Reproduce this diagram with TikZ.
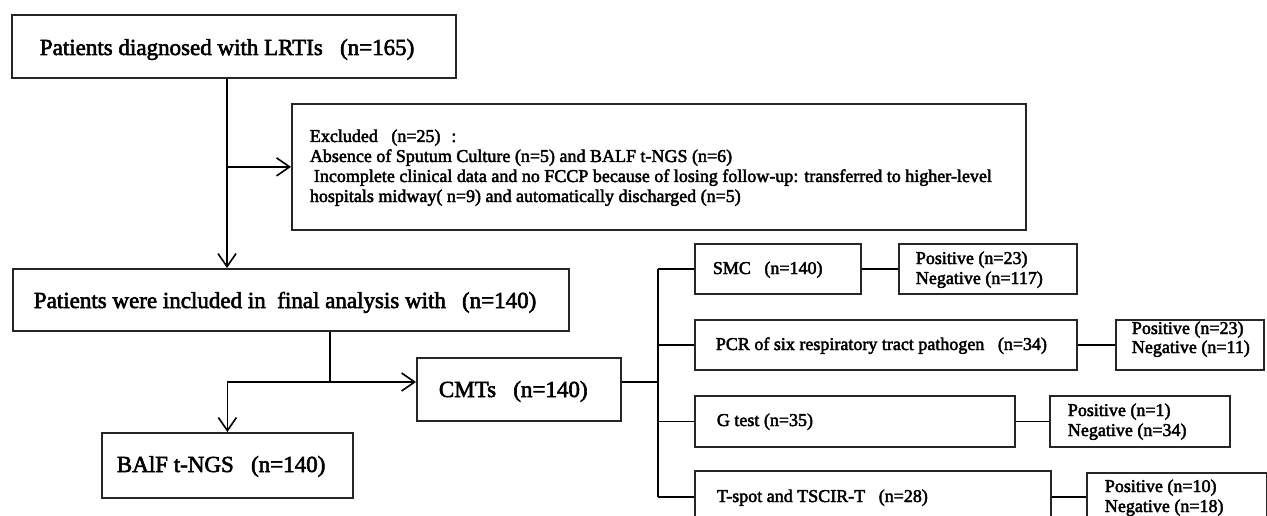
\documentclass[tikz,border=0pt]{standalone}
\usepackage{fontspec}
\setmainfont{Liberation Serif}
\newfontfamily\heavyserif{Liberation Serif}[FakeBold=2.5]
\usetikzlibrary{arrows.meta}
\begin{document}
\begin{tikzpicture}[x=1pt,y=-1pt,line width=1.8pt,
  box/.style={draw=black!85, rectangle, inner sep=0pt, anchor=north west},
  arr/.style={-{Straight Barb[length=13pt,width=18pt,line width=1.6pt]}},
  big/.style={font=\heavyserif\fontsize{23}{25}\selectfont, anchor=base west, inner sep=0pt},
  small/.style={font=\heavyserif\fontsize{18}{20}\selectfont, anchor=base west, inner sep=0pt}]
\useasboundingbox[fill=white] (0,0) rectangle (1267,516);
\clip (0,0) rectangle (1267,516);
% boxes
\node[box, minimum width=444pt, minimum height=63pt] (b1) at (11,14) {};
\node[box, minimum width=734pt, minimum height=126pt] (excl) at (291,103) {};
\node[box, minimum width=556pt, minimum height=62pt] (b2) at (12,268) {};
\node[box, minimum width=251pt, minimum height=65pt] (bal) at (101,432) {};
\node[box, minimum width=204pt, minimum height=63pt] (cmt) at (416,357) {};
\node[box, minimum width=166pt, minimum height=50pt] (smc) at (694,243) {};
\node[box, minimum width=178pt, minimum height=50pt] (smcr) at (898,243) {};
\node[box, minimum width=382pt, minimum height=50pt] (pcr) at (694,319) {};
\node[box, minimum width=148pt, minimum height=50pt] (pcrr) at (1115,319) {};
\node[box, minimum width=320pt, minimum height=51pt] (g) at (694,395) {};
\node[box, minimum width=180pt, minimum height=51pt] (gr) at (1049,395) {};
\node[box, minimum width=356pt, minimum height=52pt] (t) at (694,470) {};
\node[box, minimum width=180pt, minimum height=50pt] (tr) at (1086,472) {};
% texts
\node[big] (tb1) at (39,55) {Patients diagnosed with LRTIs\hspace{0.75em}(n=165)};
\node[small] (te1) at (309,142) {Excluded\hspace{0.75em}(n=25)\hspace{0.6em}:};
\node[small] (te2) at (309,162) {Absence of Sputum Culture (n=5) and BALF t-NGS (n=6)};
\node[small] (te3) at (313,182) {Incomplete clinical data and no FCCP because of losing follow-up: transferred to higher-level};
\node[small] (te4) at (309,202) {hospitals midway( n=9) and automatically discharged (n=5)};
\node[big] (tb2) at (33,308) {Patients were included in\hspace{0.5em}final analysis with\hspace{0.7em}(n=140)};
\node[big] (tcm) at (438,397) {CMTs\hspace{0.75em}(n=140)};
\node[big] (tba) at (116,472) {BAlF t-NGS\hspace{0.75em}(n=140)};
\node[small] (tsm) at (712,274) {SMC\hspace{0.75em}(n=140)};
\node[small] (tsp) at (915,264) {Positive (n=23)};
\node[small] (tsn) at (915,284) {Negative (n=117)};
\node[small] (tpc) at (715,350) {PCR of six respiratory tract pathogen\hspace{0.75em}(n=34)};
\node[small] (tpp) at (1131,334) {Positive (n=23)};
\node[small] (tpn) at (1131,353) {Negative (n=11)};
\node[small] (tg) at (716,426) {G test (n=35)};
\node[small] (tgp) at (1067,416) {Positive (n=1)};
\node[small] (tgn) at (1067,436) {Negative (n=34)};
\node[small] (tt) at (716,502) {T-spot and TSCIR-T\hspace{0.75em}(n=28)};
\node[small] (ttp) at (1104,492) {Positive (n=10)};
\node[small] (ttn) at (1104,512) {Negative (n=18)};
% connectors
\coordinate (v1) at (227,0);
\coordinate (v2) at (330,0);
\coordinate (j2) at (330,382);
\coordinate (tree) at (658,382);
\draw[arr] (b1.south -| v1) -- (b2.north -| v1);
\draw[arr] (v1 |- excl.west) -- (excl.west);
\draw (b2.south -| v2) -- (j2);
\draw[arr] (j2) -- (cmt.west |- j2);
\draw[arr] (j2) -| (bal.north);
\draw (cmt.east |- tree) -- (tree);
\draw (tree |- smc.west) -- (tree |- t.west);
\draw (tree |- smc.west) -- (smc.west);
\draw (tree |- pcr.west) -- (pcr.west);
\draw (tree |- g.west) -- (g.west);
\draw (tree |- t.west) -- (t.west);
\draw (smc.east) -- (smcr.west |- smc.east);
\draw (pcr.east) -- (pcrr.west |- pcr.east);
\draw (g.east) -- (gr.west |- g.east);
\draw (t.east) -- (tr.west |- t.east);
\end{tikzpicture}
\end{document}
